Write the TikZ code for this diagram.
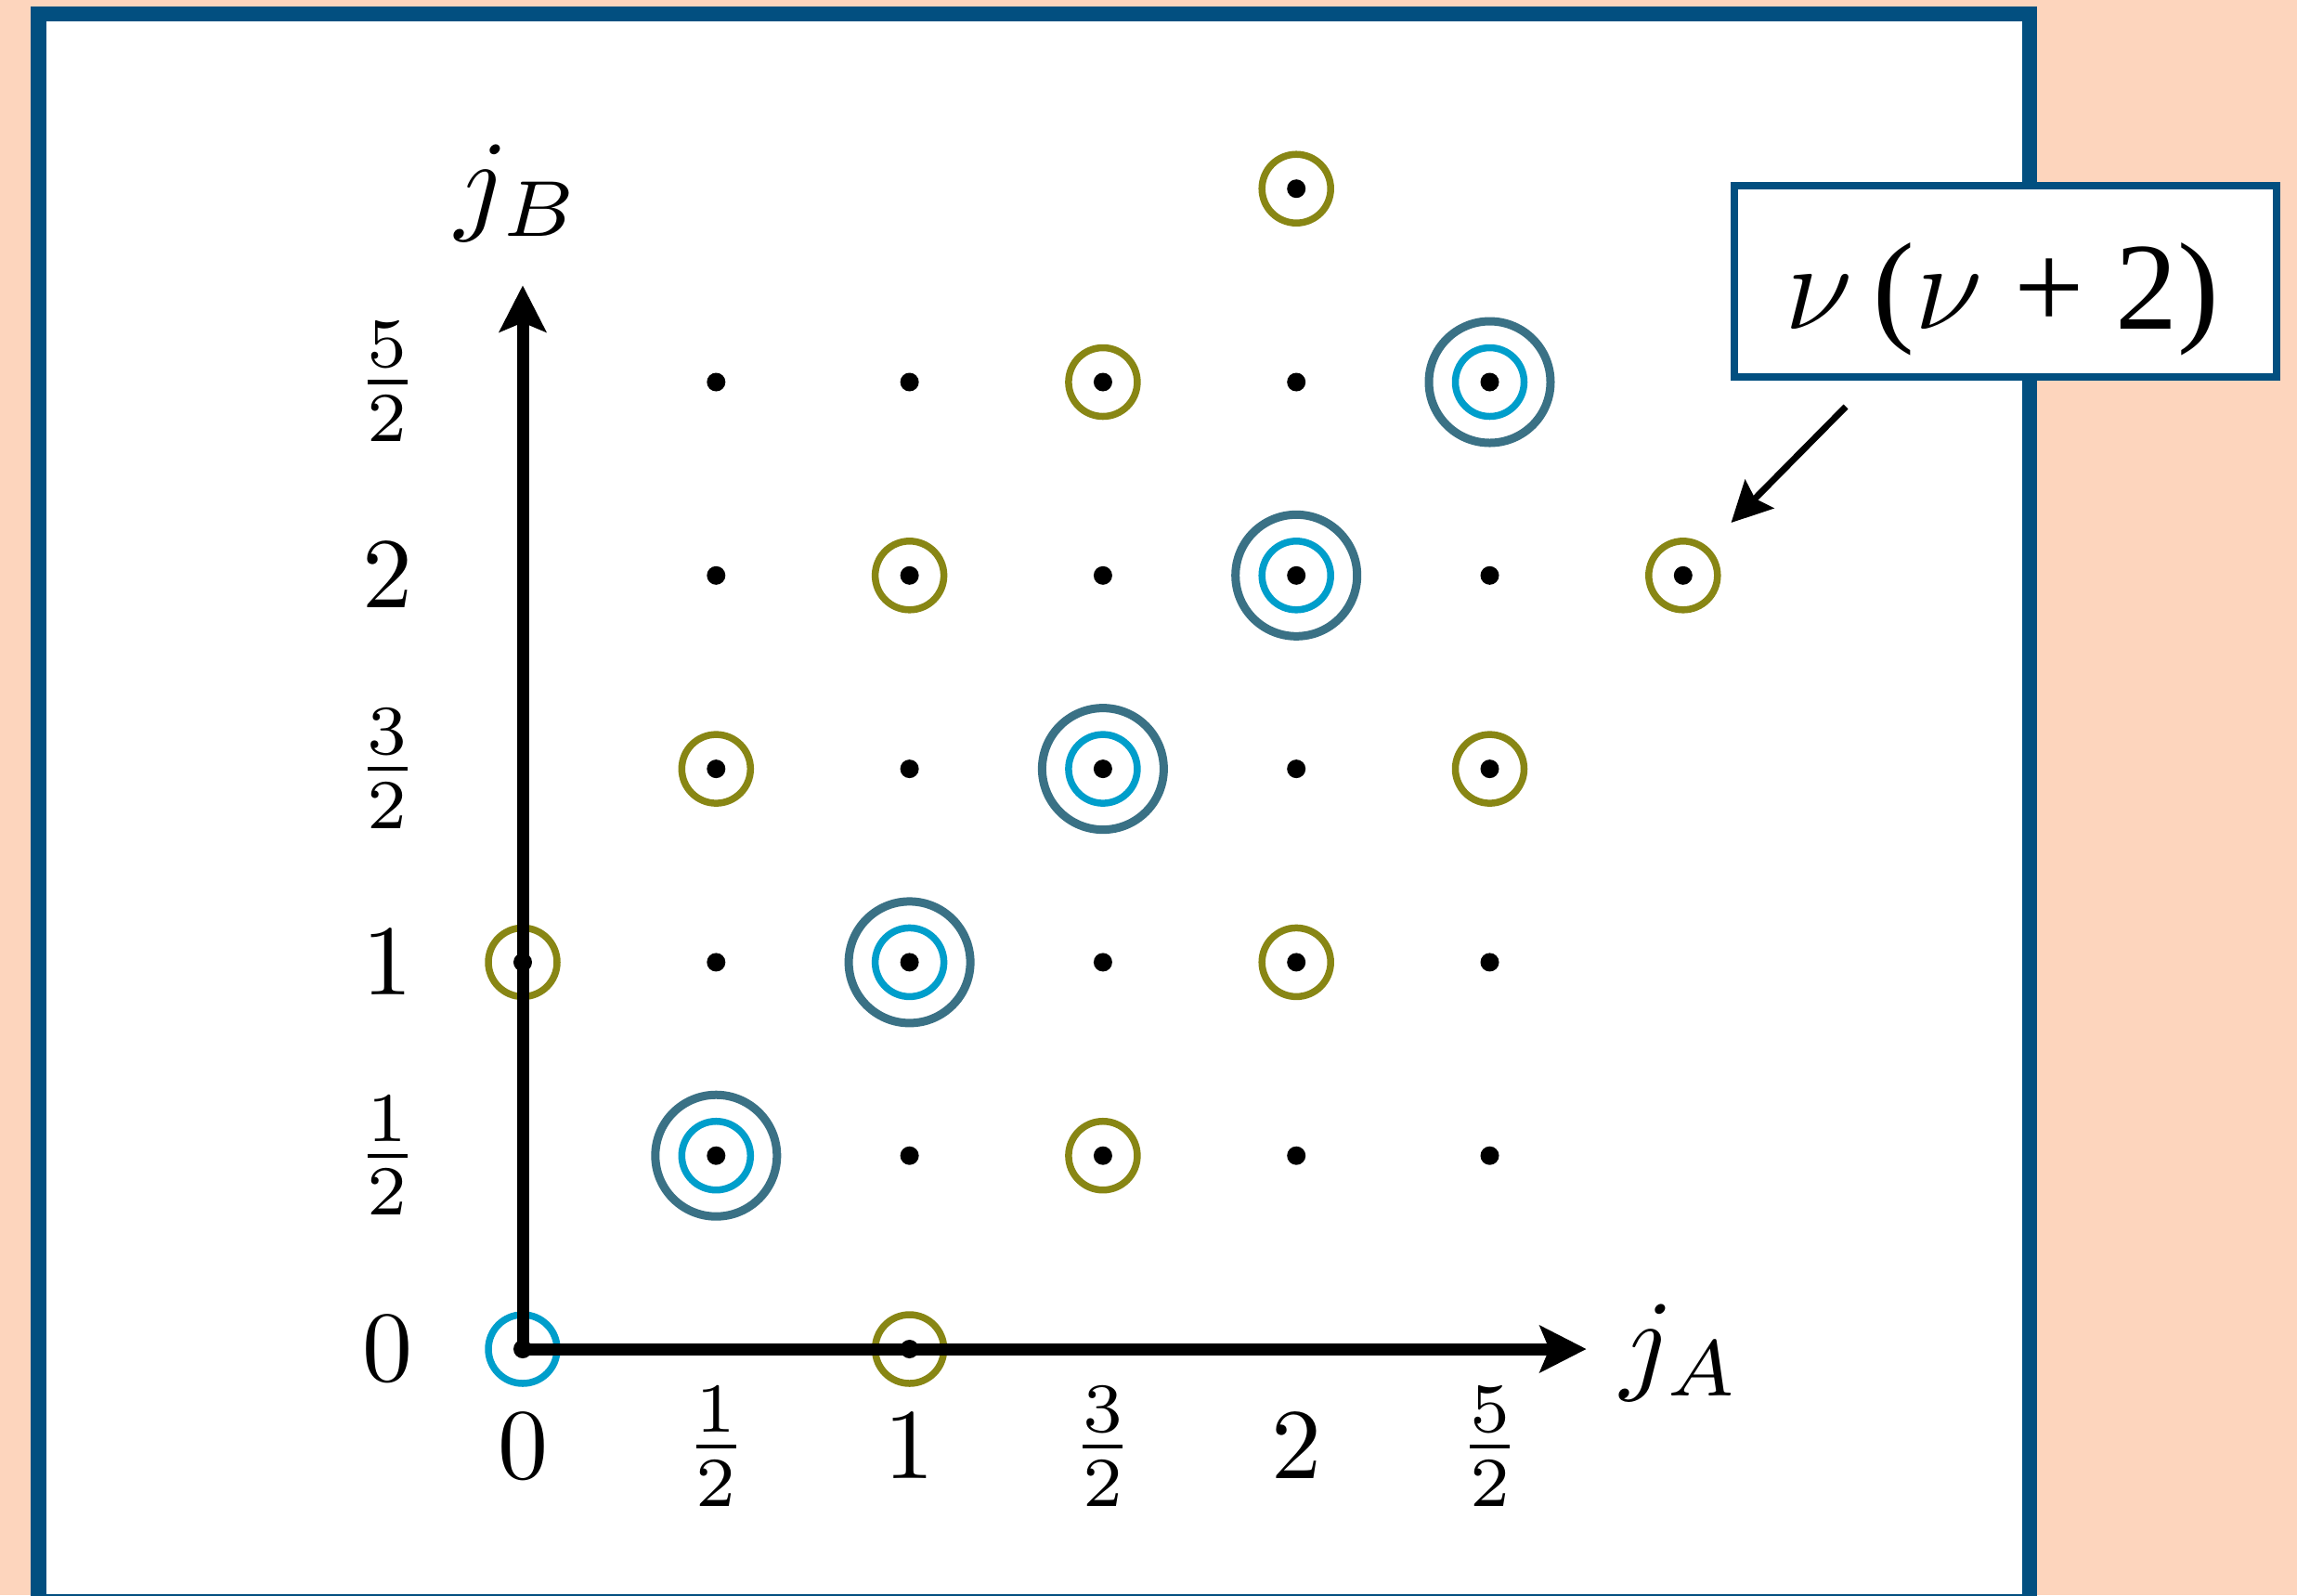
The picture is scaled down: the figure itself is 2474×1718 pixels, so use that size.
\RequirePackage{fix-cm}
\documentclass[tikz,border=0pt]{standalone}
\usepackage{fontspec}
\usepackage{graphicx}
\newfontfamily\boxfont{Liberation Serif}
\usetikzlibrary{arrows.meta}
\definecolor{peach}{RGB}{253,213,189}
\definecolor{frameblue}{RGB}{2,79,128}
\definecolor{olivec}{RGB}{136,134,20}
\definecolor{cyanc}{RGB}{0,158,203}
\definecolor{tealc}{RGB}{58,113,133}
\newcommand{\tk}[1]{\scalebox{3.24}{$#1$}}
\newcommand{\ax}[1]{\scalebox{3.66}{$#1$}}
\begin{document}
\begin{tikzpicture}[x=0.3pt,y=-0.3pt,
  dotn/.style={circle,fill=black,inner sep=0pt,minimum size=6pt},
  olivering/.style={circle,draw=olivec,line width=2.25pt,inner sep=0pt,minimum size=22.2pt},
  cyanring/.style={circle,draw=cyanc,line width=2.25pt,inner sep=0pt,minimum size=22.2pt},
  tealring/.style={circle,draw=tealc,line width=2.7pt,inner sep=0pt,minimum size=39.3pt},
  axisline/.style={line width=3.9pt,line join=miter,{Stealth[length=15pt,width=15pt,inset=3pt]}-{Stealth[length=15pt,width=15pt,inset=3pt]}},
  ticklbl/.style={inner sep=0pt},
  axislbl/.style={inner sep=0pt,anchor=base},
  labelbox/.style={draw=frameblue,fill=white,line width=2.4pt,minimum width=175.2pt,minimum height=61.8pt,inner sep=0pt},
  callout/.style={line width=2.1pt,-{Stealth[length=13pt,width=13pt,inset=2pt]}}]
\useasboundingbox (0,0) rectangle (2474,1718);
\fill[peach] (0,0) rectangle (2474,1718);
\begin{scope}
  \clip (0,0) rectangle (2474,1718);
  \draw[frameblue,line width=4.95pt,fill=white] (41.5,15) rectangle (2186,1725);
\end{scope}
\coordinate (O) at (563,1453);
\begin{scope}[shift={(O)},x=62.49pt,y=62.49pt]
  \coordinate (origin) at (0,0);
  % rings
  \foreach \i/\k in {3/5,2/4,6/4,1/3,5/3,0/2,4/2,3/1,2/0,4/6}
    {\node[olivering] (o\i\k) at (\i,\k) {};}
  \foreach \i in {1,...,5}
    {\node[cyanring] (c\i\i) at (\i,\i) {};
     \node[tealring] (t\i\i) at (\i,\i) {};}
  \node[cyanring] (c00) at (0,0) {};
  % axes
  \coordinate (xend) at (5.5,0);
  \coordinate (yend) at (0,5.5);
  \draw[axisline] (yend) -- (origin) -- (xend);
  % dots
  \foreach \i in {1,...,5}
    {\foreach \k in {1,...,5}
      {\node[dotn] (d\i\k) at (\i,\k) {};}}
  \foreach \i/\k in {0/0,2/0,0/2,6/4,4/6}
    {\node[dotn] (d\i\k) at (\i,\k) {};}
  % tick labels
  \node[ticklbl] (tx0) at (0,-0.504) {\tk{0}};
  \node[ticklbl] (tx1) at (1,-0.504) {\tk{\frac{1}{2}}};
  \node[ticklbl] (tx2) at (2,-0.504) {\tk{1}};
  \node[ticklbl] (tx3) at (3,-0.504) {\tk{\frac{3}{2}}};
  \node[ticklbl] (tx4) at (4,-0.504) {\tk{2}};
  \node[ticklbl] (tx5) at (5,-0.504) {\tk{\frac{5}{2}}};
  \node[ticklbl] (ty0) at (-0.70,0) {\tk{0}};
  \node[ticklbl] (ty1) at (-0.70,1) {\tk{\frac{1}{2}}};
  \node[ticklbl] (ty2) at (-0.70,2) {\tk{1}};
  \node[ticklbl] (ty3) at (-0.70,3) {\tk{\frac{3}{2}}};
  \node[ticklbl] (ty4) at (-0.70,4) {\tk{2}};
  \node[ticklbl] (ty5) at (-0.70,5) {\tk{\frac{5}{2}}};
\end{scope}
\node[axislbl] (jB) at (558,236) {\ax{j_B}};
\node[axislbl] (jA) at (1810,1485) {\ax{j_A}};
\node[labelbox] (lbl) at (2160,303) {};
\node[anchor=base,inner sep=0pt,font=\boxfont\fontsize{40.2}{48}\selectfont] (lbltxt) at (2156,354) {$\nu$\,($\nu$ + 2)};
\coordinate (arrS) at (1988,438);
\coordinate (arrE) at (1864.5,563);
\draw[callout] (arrS) -- (arrE);
\end{tikzpicture}
\end{document}
